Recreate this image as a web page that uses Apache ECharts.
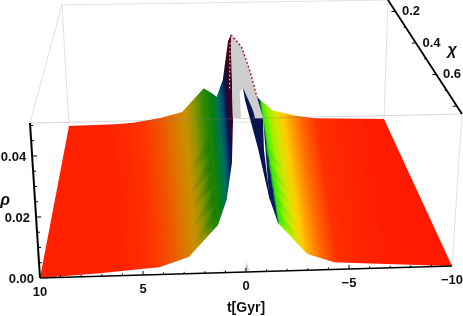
<!DOCTYPE html>
<html><head><meta charset="utf-8">
<style>html,body{margin:0;padding:0;background:#fff}#c{width:463px;height:316px}</style>
<script src="https://cdn.jsdelivr.net/npm/echarts@6/dist/echarts.min.js"></script>
</head><body><div id="c"></div>
<script>
// ---- data: t [Gyr], chi, rho ----
const tTicks = [10, 5, 0, -5, -10];
const tTickLabels = ['10', '5', '0', '\u22125', '\u221210'];
const rhoTicks = [0, 0.02, 0.04];
const rhoTickLabels = ['0.00', '0.02', '0.04'];
const chiTicks = [0.2, 0.4, 0.6];
const chiTickLabels = ['0.2', '0.4', '0.6'];

// left wing, columns run from t=10 to the centre; one (t,rho) per column on the far and near chi edges
const leftFarT   = [10, 7.1, 5.9, 4.2, 2.8, 1.4, 0.9, 0.6, 0.2, -0.16, -0.34];
const leftFarRho = [0, 0.0003, 0.0008, 0.0025, 0.0048, 0.0147, 0.0125, 0.011, 0.018, 0.0345, 0.0371];
const leftNearT  = [10, 7.1, 5.9, 4.2, 2.76, 1.34, 0.92, 0.66, 0.6, 0.6, 0.6];
const leftNearRho= [0, 0.001, 0.0016, 0.0024, 0.0055, 0.0158, 0.024, 0.0362, 0.0508, 0.0508, 0.0508];
// right wing, columns run from t=-10 to the centre
const rightFarT   = [-10, -5.6, -4.28, -2.9, -1.94, -2.32];
const rightFarRho = [0, 0.001, 0.0023, 0.0048, 0.0105, 0.0016];
const rightNearT  = [-10, -5.6, -4.27, -2.96, -1.53, -1.1];
const rightNearRho= [0, 0.0018, 0.0024, 0.0054, 0.0159, 0.0245];
// grey cap on the far chi edge
const capT   = [-0.34, -0.98, -1.49, -1.94, -2.32, -1.8, -1.05, -0.86, -0.92, -0.4];
const capRho = [0.0371, 0.032, 0.022, 0.0105, 0.0016, 0.0016, 0.0144, 0.0128, 0.0018, 0.0019];
// navy sliver on the near chi edge
const sliverT   = [0.14, -0.32, -0.42, -0.78, -0.84, -1.14, -1.1, -0.56, 0.05];
const sliverRho = [0.061, 0.0535, 0.0508, 0.0508, 0.0402, 0.0236, 0.0245, 0.0409, 0.057];
// small grey spike at t=0 on the near edge
const spikeT   = [-0.02, 0.07, -0.17];
const spikeRho = [0.0033, 0.0005, 0.0005];
// dotted seam on the far edge
const seamT   = [-0.28, -0.22];
const seamRho = [0.0337, 0.0137];
// fractions of the chi span where the saw teeth sit
const toothRows = [0.46, 0.6, 0.71, 0.84, 0.96];

// ---- style ----
const leftBandX = [68, 110, 140, 160, 175, 185, 194, 204, 212, 219, 223, 226, 229, 233];
const leftBandC = ['#ff2000','#ff2200','#ff3200','#f05400','#da7c00','#c89000','#8f9400','#2f8a00','#0a8010','#007060','#004a70','#0a1a50','#2a0530','#4a0015'];
const rightBandX = [262, 264, 270, 276, 283, 290, 300, 315, 340, 384];
const rightBandC = ['#0a1a60','#40f000','#a0f000','#d8e400','#ffcc00','#ffa000','#ff6a00','#ff3000','#ff2400','#ff1a00'];
const FONT = '"Liberation Sans", Arial, sans-serif';

// box: corners of the plot cube on the page
const box = {
  nlb:[40,278], nrb:[452,266], nlt:[30,123], nrt:[462,114],
  flb:[69,126], frb:[384,119], flt:[62,5],  frt:[388,0]
};
const tMin=-10,tMax=10,chiFar=0.127,chiNear=0.85,rhoMax=0.0508;
function project(t,chi,rho){
  const u=(tMax-t)/(tMax-tMin), v=(chi-chiFar)/(chiNear-chiFar), w=rho/rhoMax;
  const mix=(a,b,f)=>[a[0]+(b[0]-a[0])*f,a[1]+(b[1]-a[1])*f];
  const fb=mix(box.flb,box.frb,u), ft=mix(box.flt,box.frt,u);
  const nb=mix(box.nlb,box.nrb,u), nt=mix(box.nlt,box.nrt,u);
  return mix(mix(fb,ft,w),mix(nb,nt,w),v);
}
const outline=(ft,fr,nt,nr)=>ft.map((t,i)=>project(t,chiFar,fr[i])).concat(nt.map((t,i)=>project(t,chiNear,nr[i])).reverse());
const path=(ts,rs,chi)=>ts.map((t,i)=>project(t,chi,rs[i]));
function colPoint(ft,fr,nt,nr,i,f){
  const chi=chiFar+(chiNear-chiFar)*f;
  return project(ft[i]+(nt[i]-ft[i])*f,chi,fr[i]+(nr[i]-fr[i])*f);
}
function bandGradient(xs,cs,slope,y0){
  const x0=xs[0],L=xs[xs.length-1]-x0;
  return new echarts.graphic.LinearGradient(x0,y0,x0+L,y0-slope*L,
    xs.map((x,i)=>({offset:(x-x0)/L,color:cs[i]})),true);
}

const builders=[];
const line=(a,b,stroke,lw)=>builders.push({kind:'line',pts:[a,b],style:{stroke,lineWidth:lw,fill:null}});
const poly=(pts,fill)=>builders.push({kind:'polygon',pts,style:{fill}});
const dash=(pts,stroke,lw,d)=>builders.push({kind:'polyline',pts,style:{stroke,lineWidth:lw,fill:null,lineDash:d}});
const text=(p,s,o)=>builders.push({kind:'text',pts:[p],text:s,o});
const GL='#e2e2e2';

// far box lines
line(box.flb,box.flt,GL,1);line(box.flt,box.frt,GL,1);line(box.flb,box.frb,GL,1);line(box.frb,box.frt,GL,1);
line(box.nlt,box.flt,GL,1);line(box.nrb,box.nrt,GL,1);
// surface
poly(outline(leftFarT,leftFarRho,leftNearT,leftNearRho),bandGradient(leftBandX,leftBandC,0.08,120));
poly(path(capT,capRho,chiFar),'#cdcdcd');
poly(outline(rightFarT,rightFarRho,rightNearT,rightNearRho),bandGradient(rightBandX,rightBandC,0.15,120));
poly(path(sliverT,sliverRho,chiNear),'#0a1450');
poly(path(spikeT,spikeRho,chiNear),'#cfcfcf');
// saw teeth
toothRows.forEach(f=>{
  const a=colPoint(leftFarT,leftFarRho,leftNearT,leftNearRho,4,f),
        b=colPoint(leftFarT,leftFarRho,leftNearT,leftNearRho,5,f),
        c=colPoint(leftFarT,leftFarRho,leftNearT,leftNearRho,5,f-0.1);
  poly([a,b,c],new echarts.graphic.LinearGradient(a[0],0,b[0],0,[{offset:0,color:'rgba(60,110,0,0)'},{offset:1,color:'rgba(10,100,0,0.3)'}],true));
  const d=colPoint(rightFarT,rightFarRho,rightNearT,rightNearRho,3,f),
        e=colPoint(rightFarT,rightFarRho,rightNearT,rightNearRho,4,f),
        g=colPoint(rightFarT,rightFarRho,rightNearT,rightNearRho,4,f-0.1);
  poly([d,e,g],new echarts.graphic.LinearGradient(d[0],0,e[0],0,[{offset:0,color:'rgba(150,230,0,0)'},{offset:1,color:'rgba(30,220,20,0.45)'}],true));
});
// edges of the cap
dash(path(capT.slice(0,4),capRho.slice(0,4),chiFar),'#b4102c',1.4,[2,2]);
dash(path(seamT,seamRho,chiFar),'#ffffff',1,[1.5,2.5]);
// near box lines
line(box.nlt,box.nrt,'rgba(120,120,120,0.3)',1);
// axes
line(box.nlb,box.nlt,'#000',2);
line(box.nlb,box.nrb,'#000',1.6);
line(box.frt,box.nrt,'#000',1.8);
for(let t=-9;t<=10;t++){const p=project(t,chiNear,0);line(p,[p[0],p[1]-(t%5===0?4:2)],'#000',1);}
for(let k=1;k<=10;k++){const r=k*0.005,p=project(10,chiNear,r);line(p,[p[0]+(k%4===0?5:3),p[1]],'#000',1);}
for(let k=2;k<=8;k++){const c=k/10,p=project(-10,c,rhoMax);line(p,[p[0]-(k%2===0?4:2),p[1]],'#000',1);}
// labels
const LB={fontSize:13,fontWeight:'bold',fontFamily:FONT,fill:'#111'};
tTicks.forEach((t,i)=>{const p=project(t,chiNear,0);text([p[0],p[1]+14],tTickLabels[i],{...LB,textAlign:'center',textVerticalAlign:'middle'});});
rhoTicks.forEach((r,i)=>{const p=project(10,chiNear,r);text([p[0]-6,p[1]+1],rhoTickLabels[i],{...LB,textAlign:'right',textVerticalAlign:'middle'});});
chiTicks.forEach((c,i)=>{const p=project(-10,c,rhoMax);text([p[0]+6.5,p[1]],chiTickLabels[i],{...LB,textAlign:'left',textVerticalAlign:'middle'});});
text([246,308],'t[Gyr]',{...LB,fontSize:14,textAlign:'center',textVerticalAlign:'middle'});
text([5,201],'\u03C1',{...LB,fontSize:16,fontStyle:'italic',textAlign:'center',textVerticalAlign:'middle'});
text([452,51],'\u03C7',{...LB,fontSize:16,fontStyle:'italic',textAlign:'center',textVerticalAlign:'middle'});

function renderItem(params,api){
  const b=builders[params.dataIndex];
  const pts=b.pts.map(p=>api.coord(p));
  if(b.kind==='text') return {type:'text',x:pts[0][0],y:pts[0][1],style:{text:b.text,...b.o},silent:true};
  if(b.kind==='line') return {type:'line',shape:{x1:pts[0][0],y1:pts[0][1],x2:pts[1][0],y2:pts[1][1]},style:b.style,silent:true};
  return {type:b.kind,shape:{points:pts},style:b.style,silent:true};
}
const chart=echarts.init(document.getElementById('c'),null,{renderer:'canvas',width:463,height:316});
chart.setOption({
  animation:false,backgroundColor:'#fff',
  grid:{left:0,right:0,top:0,bottom:0},
  xAxis:{type:'value',min:0,max:463,show:false},
  yAxis:{type:'value',min:0,max:316,inverse:true,show:false},
  series:[{type:'custom',coordinateSystem:'cartesian2d',clip:false,renderItem,data:builders.map((b,i)=>[i])}]
});
</script></body></html>
